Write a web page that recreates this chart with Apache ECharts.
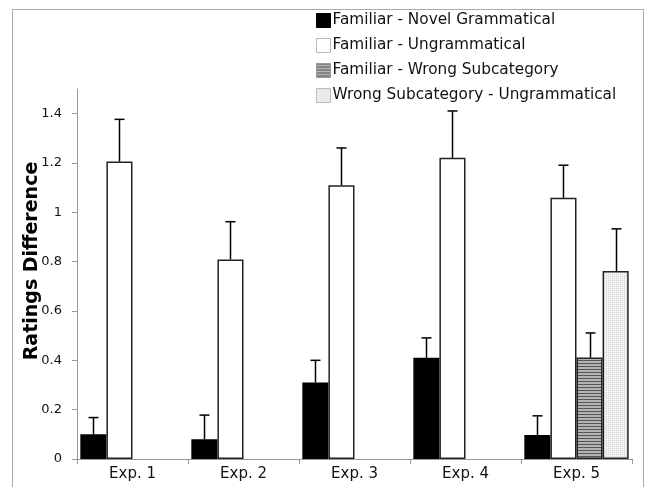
<!DOCTYPE html>
<html>
<head>
<meta charset="utf-8">
<script src="https://cdn.jsdelivr.net/npm/echarts@6/dist/echarts.min.js"></script>
<style>
  html, body { margin: 0; padding: 0; background: #fff; }
  #chart { width: 647px; height: 487px; }
</style>
</head>
<body>
<div id="chart"></div>
<script>
// categories and values
var categories = ['Exp. 1', 'Exp. 2', 'Exp. 3', 'Exp. 4', 'Exp. 5'];
var seriesNames = [
  'Familiar - Novel Grammatical',
  'Familiar - Ungrammatical',
  'Familiar - Wrong Subcategory',
  'Wrong Subcategory - Ungrammatical'
];
var novelGram = [0.10, 0.08, 0.31, 0.41, 0.097];
var novelGramErr = [0.068, 0.098, 0.09, 0.081, 0.078];
var ungram = [1.206, 0.809, 1.11, 1.221, 1.059];
var ungramErr = [0.171, 0.153, 0.151, 0.19, 0.132];
var wrongSub = [null, null, null, null, 0.411];
var wrongSubErr = [null, null, null, null, 0.10];
var wsUngram = [null, null, null, null, 0.762];
var wsUngramErr = [null, null, null, null, 0.171];
var yTicks = [0, 0.2, 0.4, 0.6, 0.8, 1, 1.2, 1.4];

var values = [novelGram, ungram, wrongSub, wsUngram];
var errors = [novelGramErr, ungramErr, wrongSubErr, wsUngramErr];

// fill textures
function stripes() {
  var c = document.createElement('canvas');
  c.width = 4; c.height = 3;
  var ctx = c.getContext('2d');
  ctx.fillStyle = '#b4b4b4';
  ctx.fillRect(0, 0, 4, 3);
  ctx.fillStyle = '#555';
  ctx.fillRect(0, 0, 4, 1);
  return c;
}
function dots() {
  var c = document.createElement('canvas');
  c.width = 2; c.height = 2;
  var ctx = c.getContext('2d');
  ctx.fillStyle = '#f2f2f2';
  ctx.fillRect(0, 0, 2, 2);
  ctx.fillStyle = '#d4d4d4';
  ctx.fillRect(0, 0, 1, 1);
  return c;
}

var fills = [
  '#000',
  '#fff',
  { image: stripes(), repeat: 'repeat' },
  { image: dots(), repeat: 'repeat' }
];
var borders = ['#000', '#222', '#222', '#222'];
var legendBorders = ['#000', '#bbb', '#999', '#bbb'];

var catGap = 0.06;

var series = values.map(function (v, i) {
  return {
    name: seriesNames[i],
    type: 'bar',
    data: v,
    barGap: '0%',
    barCategoryGap: (catGap * 100) + '%',
    itemStyle: { color: fills[i], borderColor: borders[i], borderWidth: 1.5 },
    emphasis: { disabled: true }
  };
});

// error bars, upper side only
var errData = [];
values.forEach(function (v, s) {
  v.forEach(function (val, c) {
    if (val !== null) errData.push([c, val, errors[s][c], s]);
  });
});

series.push({
  type: 'custom',
  z: 5,
  silent: true,
  data: errData,
  encode: { x: 0, y: 1 },
  renderItem: function (params, api) {
    var cat = api.value(0), val = api.value(1), err = api.value(2), s = api.value(3);
    var base = api.coord([cat, val]);
    var top = api.coord([cat, val + err]);
    var band = api.size([1, 0])[0];
    var bw = band * (1 - catGap) / 4;
    var x = Math.round(base[0] - band * (1 - catGap) / 2 + (s + 0.5) * bw) + 0.5;
    var style = { stroke: '#000', lineWidth: 1.5 };
    return {
      type: 'group',
      children: [
        { type: 'line', shape: { x1: x, y1: base[1], x2: x, y2: top[1] }, style: style },
        { type: 'line', shape: { x1: x - 5, y1: top[1], x2: x + 5, y2: top[1] }, style: style }
      ]
    };
  }
});

var chart = echarts.init(document.getElementById('chart'));
chart.setOption({
  animation: false,
  backgroundColor: '#fff',
  textStyle: { fontFamily: 'DejaVu Sans' },
  graphic: [{
    type: 'rect',
    shape: { x: 12.5, y: 9.5, width: 631, height: 500 },
    style: { fill: 'none', stroke: '#aaa', lineWidth: 1 },
    silent: true
  }],
  legend: {
    data: seriesNames.map(function (n, i) {
      return { name: n, itemStyle: { borderColor: legendBorders[i], borderWidth: 1 } };
    }),
    orient: 'vertical',
    left: 316,
    top: 13,
    padding: 0,
    itemWidth: 14,
    itemHeight: 14,
    itemGap: 10,
    icon: 'rect',
    selectedMode: false,
    textStyle: { fontSize: 15.3, color: '#111', lineHeight: 14, padding: [0, 0, 0, -3] }
  },
  grid: { left: 77, right: 15, top: 89, bottom: 28, outerBoundsMode: 'none' },
  xAxis: {
    type: 'category',
    data: categories,
    axisLine: { lineStyle: { color: '#999', width: 1 } },
    axisTick: { show: true, length: 5, lineStyle: { color: '#999' } },
    axisLabel: { fontSize: 15, color: '#111', margin: 8 },
    splitLine: { show: false }
  },
  yAxis: {
    type: 'value',
    min: 0,
    max: 1.5,
    name: 'Ratings Difference',
    nameLocation: 'middle',
    nameGap: 35,
    nameMoveOverlap: false,
    nameTextStyle: { fontSize: 19, fontWeight: 'bold', color: '#000', padding: [0, 0, 0, 26] },
    axisLine: { show: true, lineStyle: { color: '#999', width: 1 } },
    axisTick: { show: true, length: 5, lineStyle: { color: '#999' }, customValues: yTicks },
    axisLabel: { fontSize: 13, color: '#111', margin: 15, customValues: yTicks },
    splitLine: { show: false }
  },
  series: series
});
</script>
</body>
</html>
